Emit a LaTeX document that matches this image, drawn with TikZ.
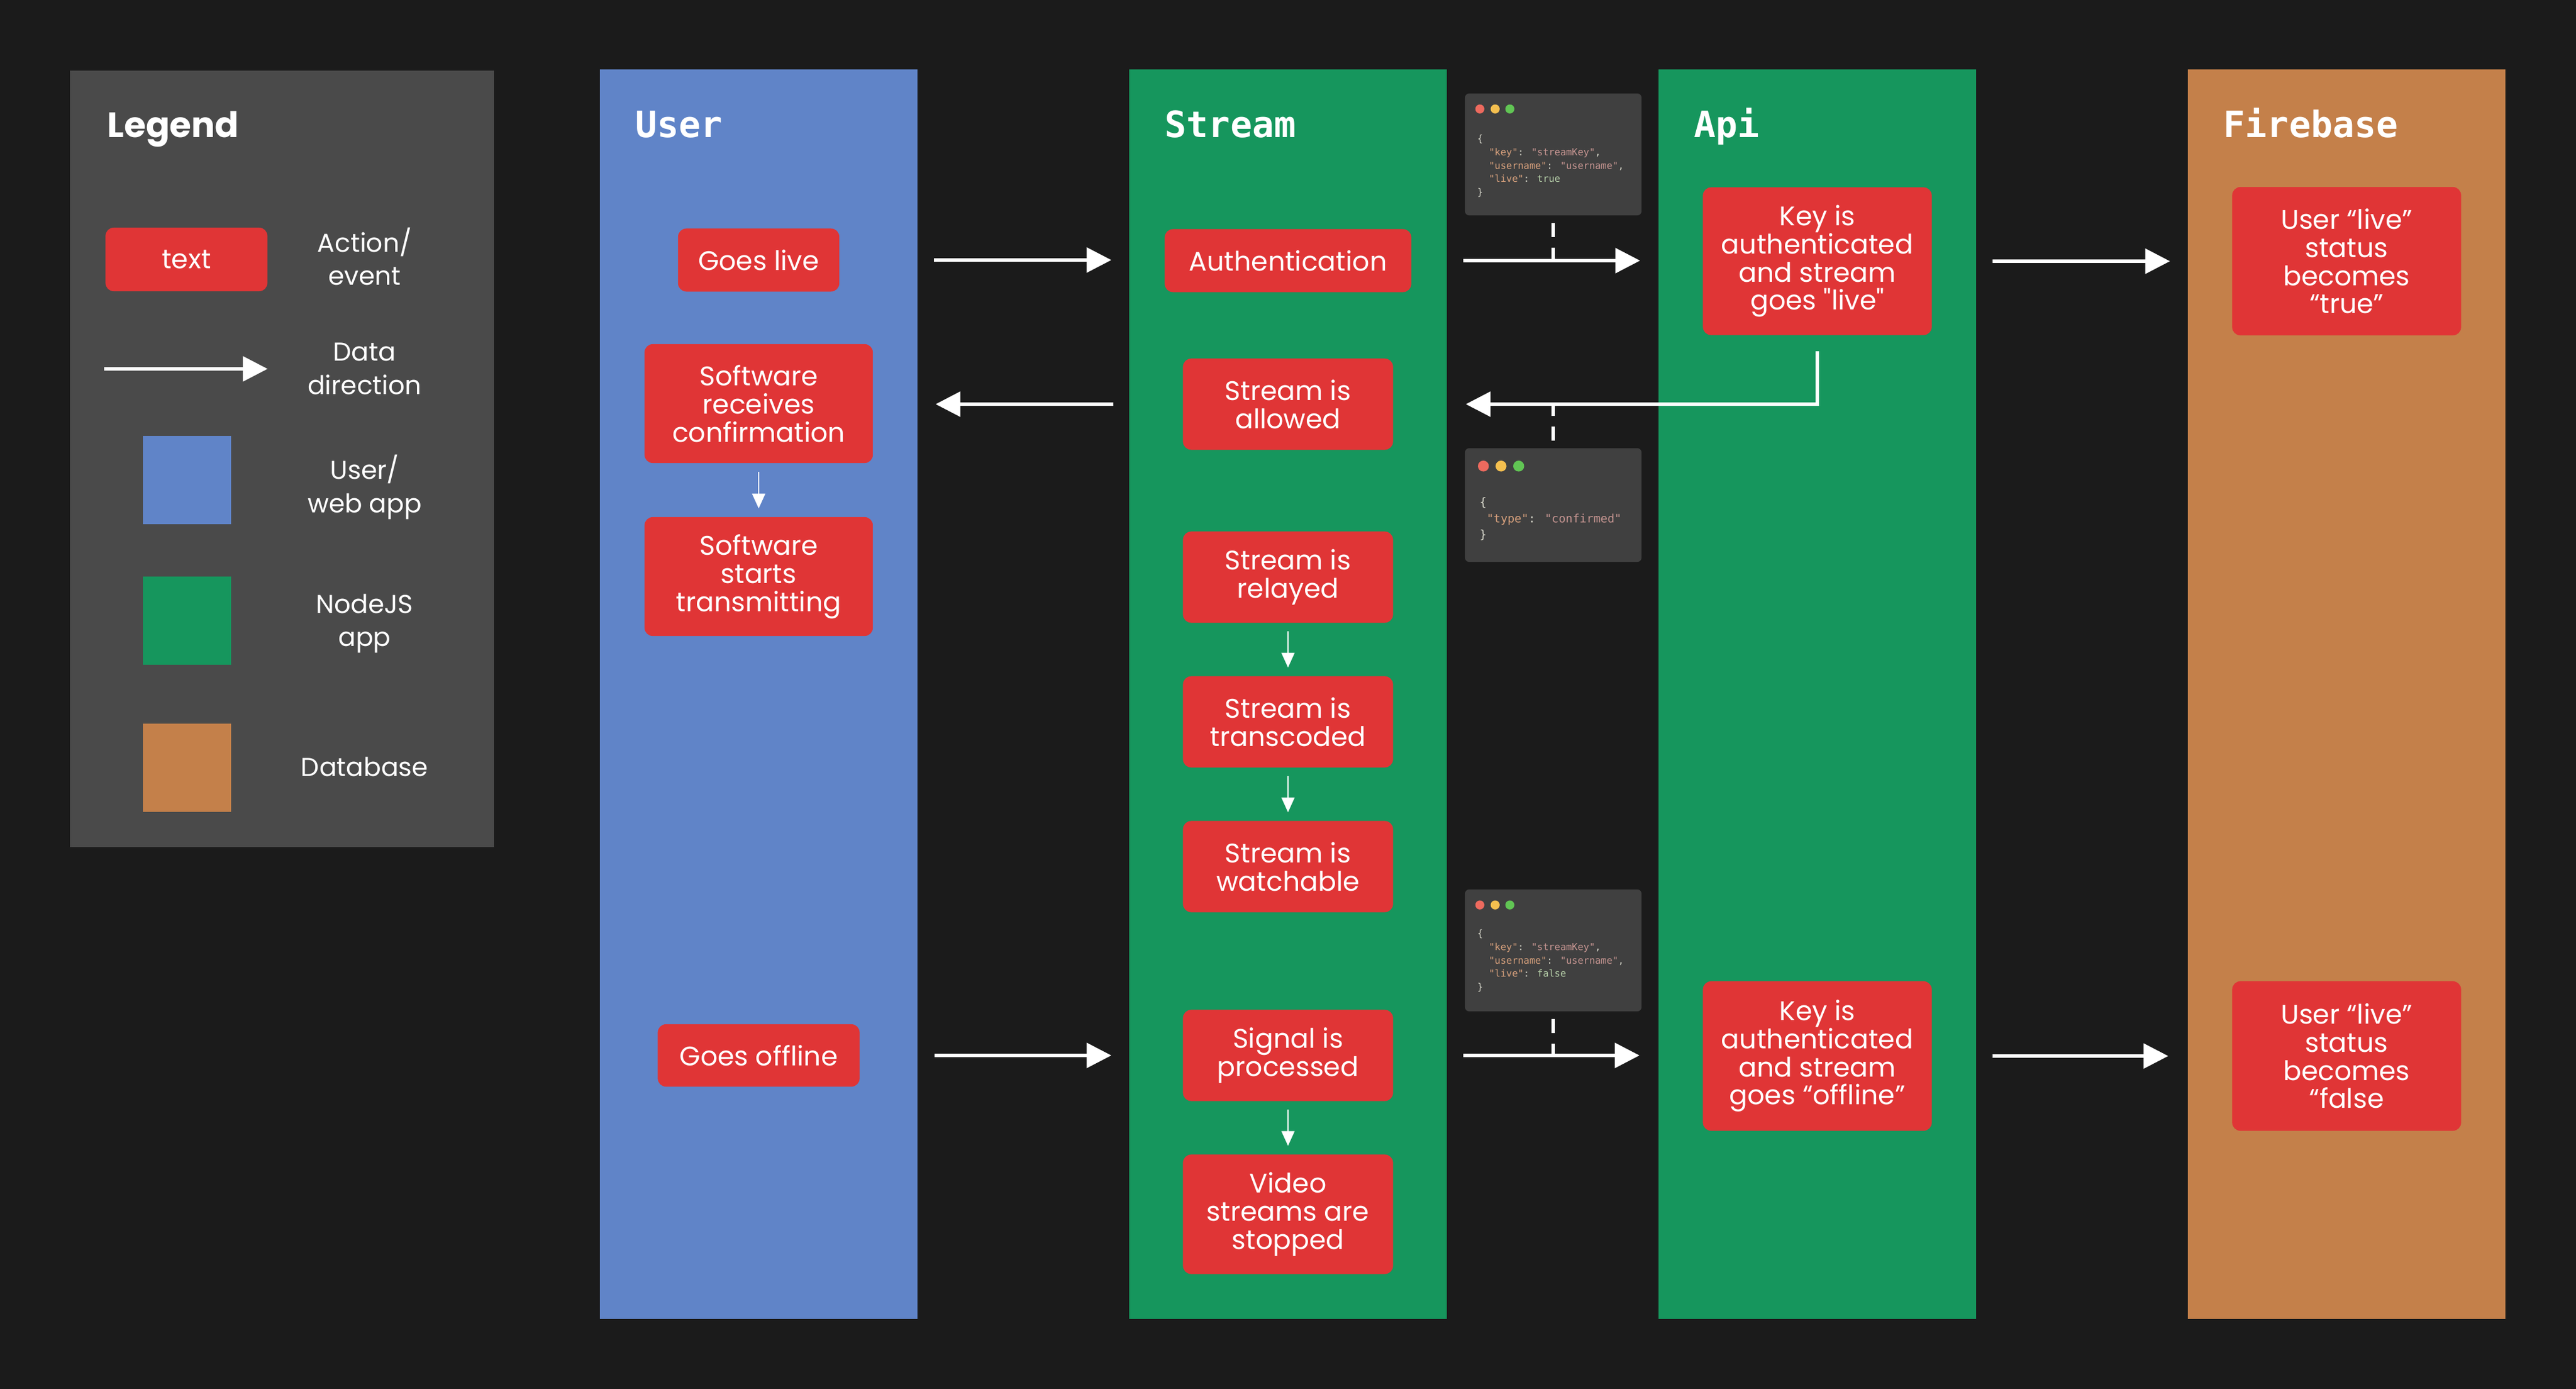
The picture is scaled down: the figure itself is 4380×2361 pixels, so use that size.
\documentclass[tikz,border=0pt]{standalone}
\usepackage{fontspec}
\setmainfont{Poppins}[Ligatures=TeXOff]
\newfontfamily\titrefont{DejaVu Sans Mono}
\newfontfamily\codefont{DejaVu Sans Mono}[Ligatures=TeXOff]
\usetikzlibrary{arrows.meta,positioning,calc}

\definecolor{fond}{HTML}{1B1B1B}
\definecolor{grislegende}{HTML}{4A4A4A}
\definecolor{bleu}{HTML}{6084C8}
\definecolor{vert}{HTML}{16965D}
\definecolor{orange}{HTML}{C4804A}
\definecolor{rouge}{HTML}{E03536}
\definecolor{codefond}{HTML}{404040}
\definecolor{gristexte}{HTML}{D4D4C8}
\definecolor{codecle}{HTML}{D6A07C}
\definecolor{codechaine}{HTML}{C49490}
\definecolor{codebool}{HTML}{B5CEA8}
\definecolor{rougepoint}{HTML}{ED6A5E}
\definecolor{jaunepoint}{HTML}{F4BF4F}
\definecolor{vertpoint}{HTML}{61C554}

\newcommand{\cle}[1]{\textcolor{codecle}{"#1"}}
\newcommand{\chaine}[1]{\textcolor{codechaine}{"#1"}}
\newcommand{\booleen}[1]{\textcolor{codebool}{#1}}

\begin{document}
\begin{tikzpicture}[x=0.01cm,y=-0.01cm]
	\tikzstyle{fleche}=[-{Triangle[length=4.2mm,width=4.2mm]},line width=0.55mm,white]
	\tikzstyle{flechefine}=[-{Triangle[length=2.5mm,width=2.2mm]},line width=0.25mm,white,shorten <=1.4mm,shorten >=1.4mm]
	\tikzstyle{pointille}=[white,line width=0.55mm,dash pattern=on 2.4mm off 1.8mm,shorten <=1.2mm]
	\tikzstyle{couloir}=[rectangle,minimum width=5.4cm,minimum height=21.22cm,inner sep=0pt]
	\tikzstyle{evenement}=[rectangle,rounded corners=1.4mm,fill=rouge,text=white,align=center,inner sep=0pt,font=\fontsize{13}{13.6}\selectfont]
	\tikzstyle{titre}=[anchor=base west,text=white,inner sep=0pt,font=\titrefont\bfseries\fontsize{17.5}{20}\selectfont]
	\tikzstyle{legende}=[text=white,align=center,inner sep=0pt,font=\fontsize{12.5}{16}\selectfont]
	\tikzstyle{pastille}=[rectangle,minimum size=1.5cm,inner sep=0pt]
	\tikzstyle{boitecode}=[rectangle,rounded corners=0.7mm,fill=codefond,minimum width=3cm,inner sep=0pt]
	\tikzstyle{textecode}=[anchor=north west,align=left,inner sep=0pt,text=gristexte]
	\def\ColUser{1290}
	\def\ColStream{2190}
	\def\ColApi{3090}
	\def\ColFire{3990}
	\def\ColCode{2641}
	\useasboundingbox (0,0) rectangle (4380,2361);
	\fill[fond] (0,0) rectangle (4380,2361);
	% legende
	\node[fill=grislegende,minimum width=7.21cm,minimum height=13.2cm,inner sep=0pt] (legende) at (479.5,780) {};
	\node[titre,font=\bfseries\fontsize{17}{20}\selectfont] (tLegende) at ([shift={(64,115)}]legende.north west) {Legend};
	\node[evenement,minimum width=2.75cm,minimum height=1.08cm] (legAction) at (317,441) {text};
	\node[legende] (lblAction) at (620,436) {Action/\\event};
	\coordinate (legA) at (177,627);
	\coordinate (legB) at (455,627);
	\draw[fleche] (legA) -- (legB);
	\node[legende] (lblData) at (620,627) {Data\\direction};
	\node[pastille,fill=bleu] (swUser) at (318,816) {};
	\node[legende] (lblUser) at (620,828) {User/\\web app};
	\node[pastille,fill=vert] (swNode) at (318,1055) {};
	\node[legende] (lblNode) at (620,1060) {NodeJS\\app};
	\node[pastille,fill=orange] (swBase) at (318,1305) {};
	\node[legende] (lblBase) at (620,1303) {Database};
	% couloirs
	\node[couloir,fill=bleu] (user) at (\ColUser,1180) {};
	\node[couloir,fill=vert] (stream) at (\ColStream,1180) {};
	\node[couloir,fill=vert] (api) at (\ColApi,1180) {};
	\node[couloir,fill=orange] (firebase) at (\ColFire,1180) {};
	\node[titre] (tUser) at ([shift={(61,116)}]user.north west) {User};
	\node[titre] (tStream) at ([shift={(61,116)}]stream.north west) {Stream};
	\node[titre] (tApi) at ([shift={(61,116)}]api.north west) {Api};
	\node[titre] (tFirebase) at ([shift={(61,116)}]firebase.north west) {Firebase};
	% user
	\node[evenement,minimum width=2.74cm,minimum height=1.07cm] (golive) at (\ColUser,442) {Goes live};
	\node[evenement,minimum width=3.88cm,minimum height=2.02cm] (confirm) at (\ColUser,686) {Software\\receives\\confirmation};
	\node[evenement,minimum width=3.88cm,minimum height=2.02cm] (starts) at (\ColUser,980) {Software\\starts\\transmitting};
	\node[evenement,minimum width=3.43cm,minimum height=1.06cm] (offline) at (\ColUser,1794) {Goes offline};
	% stream
	\node[evenement,minimum width=4.19cm,minimum height=1.07cm] (auth) at (\ColStream,443) {Authentication};
	\node[evenement,minimum width=3.57cm,minimum height=1.55cm] (allowed) at (\ColStream,687) {Stream is\\allowed};
	\node[evenement,minimum width=3.57cm,minimum height=1.55cm] (relayed) at (\ColStream,981) {Stream is\\relayed};
	\node[evenement,minimum width=3.57cm,minimum height=1.55cm] (transcoded) at (\ColStream,1227) {Stream is\\transcoded};
	\node[evenement,minimum width=3.57cm,minimum height=1.55cm] (watchable) at (\ColStream,1473) {Stream is\\watchable};
	\node[evenement,minimum width=3.57cm,minimum height=1.55cm] (processed) at (\ColStream,1794) {Signal is\\processed};
	\node[evenement,minimum width=3.57cm,minimum height=2.03cm] (stopped) at (\ColStream,2064) {Video\\streams are\\stopped};
	% api
	\node[evenement,minimum width=3.89cm,minimum height=2.51cm] (keylive) at (\ColApi,444) {Key is\\authenticated\\and stream\\goes "live"};
	\node[evenement,minimum width=3.89cm,minimum height=2.54cm] (keyoff) at (\ColApi,1795) {Key is\\authenticated\\and stream\\goes “offline”};
	% firebase
	\node[evenement,minimum width=3.89cm,minimum height=2.52cm] (firetrue) at (\ColFire,444) {User “live”\\status\\becomes\\“true”};
	\node[evenement,minimum width=3.89cm,minimum height=2.54cm] (firefalse) at (\ColFire,1795) {User “live”\\status\\becomes\\“false};
	% json
	\node[boitecode,minimum height=2.07cm] (code1) at (\ColCode,262.5) {};
	\node[boitecode,minimum height=1.93cm] (code2) at (\ColCode,858.5) {};
	\node[boitecode,minimum height=2.07cm] (code3) at (\ColCode,1615.5) {};
	\foreach \c/\dx in {rougepoint/26,jaunepoint/52,vertpoint/77}{
		\fill[\c] ([shift={(\dx,27)}]code1.north west) circle (0.77mm);
		\fill[\c] ([shift={(\dx,27)}]code3.north west) circle (0.77mm);
	}
	\foreach \c/\dx in {rougepoint/32,jaunepoint/62,vertpoint/92}
		\fill[\c] ([shift={(\dx,31)}]code2.north west) circle (0.93mm);
	\node[textecode,font=\codefont\fontsize{4.65}{6.5}\selectfont] (json1) at ([shift={(21,70)}]code1.north west)
		{\{\\\phantom{xx}\cle{key}: \chaine{streamKey},\\\phantom{xx}\cle{username}: \chaine{username},\\\phantom{xx}\cle{live}: \booleen{true}\\\}};
	\node[textecode,font=\codefont\fontsize{5.6}{7.8}\selectfont] (json2) at ([shift={(25,84)}]code2.north west)
		{\{\\\phantom{x}\cle{type}: \chaine{confirmed}\\\}};
	\node[textecode,font=\codefont\fontsize{4.65}{6.5}\selectfont] (json3) at ([shift={(21,68)}]code3.north west)
		{\{\\\phantom{xx}\cle{key}: \chaine{streamKey},\\\phantom{xx}\cle{username}: \chaine{username},\\\phantom{xx}\cle{live}: \booleen{false}\\\}};
	% liens
	\draw[pointille] (code1.south) -- (code1.south |- auth.east);
	\draw[pointille] (code2.north) -- (code2.north |- allowed.east);
	\draw[pointille] (code3.south) -- (code3.south |- processed.east);
	\draw[fleche,shorten <=1.6cm,shorten >=0.9cm] (golive.east) -- (golive.east -| auth.west);
	\draw[fleche,shorten <=0.88cm,shorten >=1.06cm] (auth.east) -- (auth.east -| keylive.west);
	\draw[fleche,shorten <=1.03cm,shorten >=1.05cm] (keylive.east) -- (keylive.east -| firetrue.west);
	\draw[fleche,shorten <=0.27cm,shorten >=1.23cm] (keylive.south) |- (allowed.east);
	\draw[fleche,shorten <=1.18cm,shorten >=1.06cm] (allowed.west) -- (allowed.west -| confirm.east);
	\draw[fleche,shorten <=1.27cm,shorten >=1.21cm] (offline.east) -- (offline.east -| processed.west);
	\draw[fleche,shorten <=1.19cm,shorten >=1.07cm] (processed.east) -- (processed.east -| keyoff.west);
	\draw[fleche,shorten <=1.03cm,shorten >=1.08cm] (keyoff.east) -- (keyoff.east -| firefalse.west);
	\draw[flechefine] (confirm.south) -- (starts.north);
	\draw[flechefine] (relayed.south) -- (transcoded.north);
	\draw[flechefine] (transcoded.south) -- (watchable.north);
	\draw[flechefine] (processed.south) -- (stopped.north);
\end{tikzpicture}
\end{document}
